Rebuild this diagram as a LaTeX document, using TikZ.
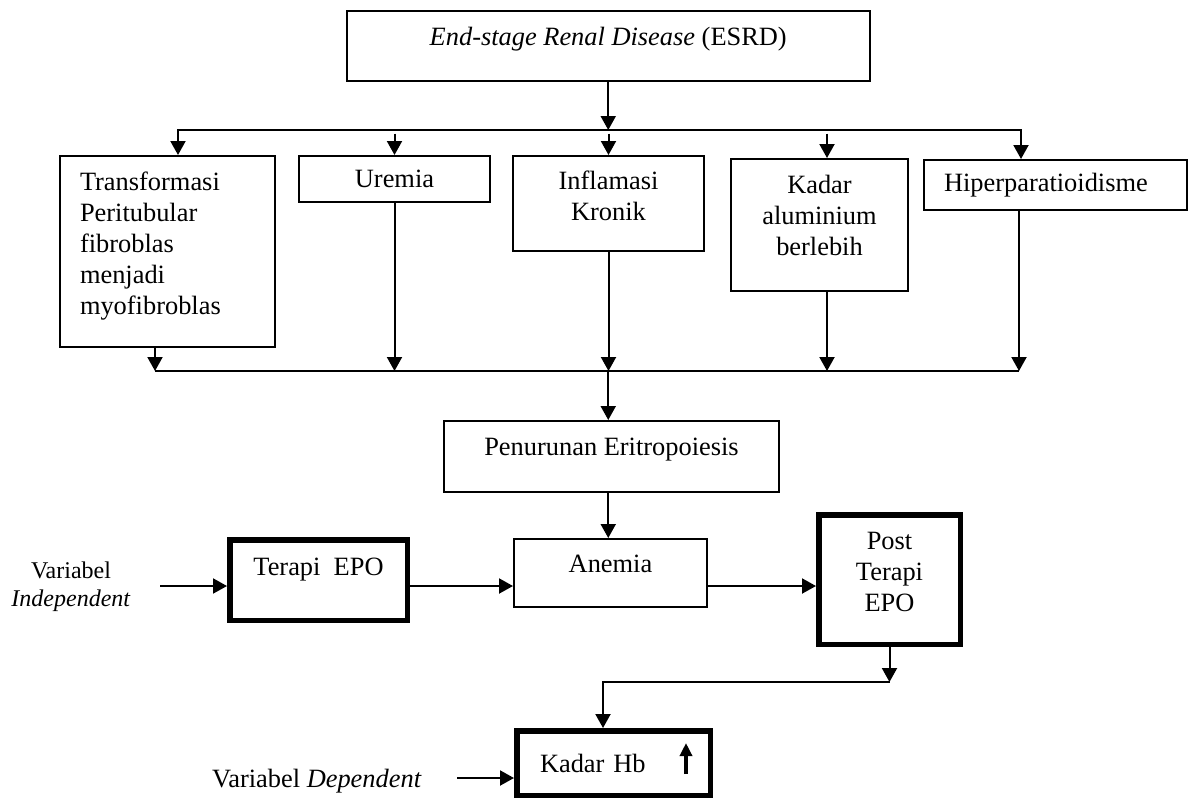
\documentclass[tikz,border=0pt]{standalone}
\usepackage{fontspec}
\setmainfont{Liberation Serif}
\usetikzlibrary{arrows.meta}

\begin{document}
\begin{tikzpicture}[x=1pt, y=-1pt, >={Triangle[length=14pt,width=15pt]},
  font=\fontsize{26.4}{31}\selectfont,
  box/.style={draw, line width=2pt, anchor=north west, inner sep=0pt, align=center},
  boldbox/.style={box, line width=5.5pt},
  wire/.style={line width=2pt}]
  \useasboundingbox (0,0) rectangle (1189,798);

  \node[box, minimum width=523.5pt, text height=34.5pt, text depth=36pt] (esrd) at (345.5,9.5) {\textit{End-stage Renal Disease} (ESRD)};
  \node[box, align=left, text width=174.5pt, inner xsep=20.5pt, minimum height=191pt, text depth=141pt] (trans) at (58.5,155) {Transformasi\\Peritubular\\fibroblas\\menjadi\\myofibroblas};
  \node[box, minimum width=191pt, minimum height=46pt] (urem) at (298,155) {Uremia};
  \node[box, minimum width=191pt, minimum height=95pt, text depth=15pt] (infl) at (512,155) {Inflamasi\\Kronik};
  \node[box, minimum width=177pt, minimum height=132pt, text depth=19pt] (alum) at (730,158) {Kadar\\aluminium\\berlebih};
  \node[box, align=left, text width=223pt, inner xsep=20pt, minimum height=50pt] (hpt) at (923,159) {Hiperparatioidisme};
  \node[box, minimum width=335pt, text height=34pt, text depth=37pt] (erit) at (443,420) {Penurunan Eritropoiesis};
  \node[boldbox, minimum width=177.5pt, text height=35.25pt, text depth=45.25pt] (epo) at (227,537) {Terapi\ \ EPO};
  \node[box, minimum width=193pt, text height=33pt, text depth=35pt] (anem) at (513,538) {Anemia};
  \node[boldbox, minimum width=141.5pt, minimum height=129.5pt, text depth=15pt] (post) at (816,512) {Post\\Terapi\\EPO};
  \node[boldbox, align=left, text width=147pt, inner xsep=23.25pt, minimum height=64.5pt] (hb) at (514,728) {Kadar Hb};
  \node[font=\fontsize{24}{28}\selectfont, align=center, inner sep=0pt] (indep) at (71,587) {Variabel\\\textit{Independent}};
  \node[anchor=base west, inner sep=0pt] (dep) at (212,787) {Variabel \textit{Dependent}};

  \coordinate (busT) at (0,130);
  \coordinate (tapT) at (0,133.5);
  \coordinate (busB) at (0,371);
  \coordinate (rowY) at (0,586);
  \coordinate (elbow) at (603,682);
  \coordinate (indepTail) at (160,586);
  \coordinate (depTail) at (457,778);
  \coordinate (colA) at (178,0);
  \coordinate (colB) at (155,0);
  \coordinate (colK) at (827,0);
  \coordinate (colH) at (1021,0);
  \coordinate (colG) at (1019,0);

  \draw[->, wire] (esrd.south) -- (esrd.south |- busT);
  \draw[<->, wire] (colA |- trans.north) -- (colA |- busT) -- (colH |- busT) -- (colH |- hpt.north);
  \draw[->, wire] (urem.north |- tapT) -- (urem.north);
  \draw[->, wire] (infl.north |- tapT) -- (infl.north);
  \draw[->, wire] (colK |- tapT) -- (colK |- alum.north);

  \draw[->, wire] (colB |- trans.south) -- (colB |- busB);
  \draw[->, wire] (urem.south) -- (urem.south |- busB);
  \draw[->, wire] (infl.south) -- (infl.south |- busB);
  \draw[->, wire] (colK |- alum.south) -- (colK |- busB);
  \draw[->, wire] (colG |- hpt.south) -- (colG |- busB);
  \draw[wire] (colB |- busB) -- (colG |- busB);
  \draw[->, wire] (esrd.south |- busB) -- (esrd.south |- erit.north);
  \draw[->, wire] (esrd.south |- erit.south) -- (esrd.south |- anem.north);

  \draw[->, wire] (indepTail) -- (indepTail -| epo.west);
  \draw[->, wire] (epo.east |- rowY) -- (anem.west |- rowY);
  \draw[->, wire] (anem.east |- rowY) -- (post.west |- rowY);
  \draw[->, wire] (post.south) -- (post.south |- elbow);
  \draw[->, wire] (post.south |- elbow) -- (elbow) -- (elbow |- hb.north);
  \draw[->, wire] (depTail) -- (depTail -| hb.west);
  \draw[-{Triangle[length=13pt,width=12pt]}, line width=3.5pt] ([xshift=72.5pt, yshift=-11pt]hb.center) -- ++(0,-31);
\end{tikzpicture}
\end{document}
